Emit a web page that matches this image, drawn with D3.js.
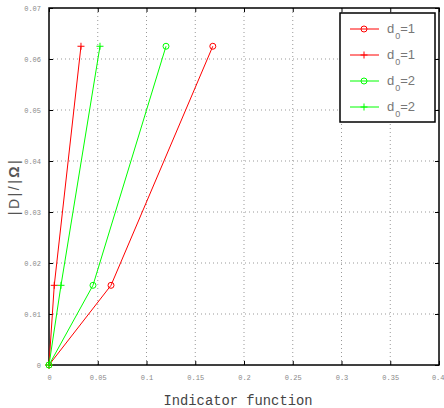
<!DOCTYPE html>
<html>
<head>
<meta charset="utf-8">
<script src="https://cdn.jsdelivr.net/npm/d3@7"></script>
<style>
  body { margin: 0; background: #fff; }
  svg { display: block; }
  .tick text { font-family: "Liberation Mono", "DejaVu Sans Mono", monospace; font-size: 7px; fill: #888; }
</style>
</head>
<body>
<div id="chart"></div>
<script>
// --- data ---
const xTicks = [0, 0.05, 0.1, 0.15, 0.2, 0.25, 0.3, 0.35, 0.4];
const yTicks = [0, 0.01, 0.02, 0.03, 0.04, 0.05, 0.06, 0.07];

const redCircleX = [0, 0.0636, 0.168];
const redCircleY = [0, 0.015625, 0.0625];
const redPlusX = [0, 0.0054, 0.0328];
const redPlusY = [0, 0.015625, 0.0625];
const greenCircleX = [0, 0.0451, 0.12];
const greenCircleY = [0, 0.015625, 0.0625];
const greenPlusX = [0, 0.0123, 0.0523];
const greenPlusY = [0, 0.015625, 0.0625];

const seriesSub = ["1", "1", "2", "2"];

const series = [
  { xs: redCircleX, ys: redCircleY, color: "#ff0000", marker: "circle", val: seriesSub[0] },
  { xs: redPlusX, ys: redPlusY, color: "#ff0000", marker: "plus", val: seriesSub[1] },
  { xs: greenCircleX, ys: greenCircleY, color: "#00ff00", marker: "circle", val: seriesSub[2] },
  { xs: greenPlusX, ys: greenPlusY, color: "#00ff00", marker: "plus", val: seriesSub[3] }
];

const width = 444, height = 408;
const margin = { top: 8, right: 5, bottom: 43, left: 49 };

const svg = d3.select("#chart").append("svg")
  .attr("width", width).attr("height", height);

const x = d3.scaleLinear().domain([0, 0.4]).range([margin.left, width - margin.right]);
const y = d3.scaleLinear().domain([0, 0.07]).range([height - margin.bottom, margin.top]);

// grid
const grid = svg.append("g");
grid.selectAll(".gx").data(xTicks.slice(1, -1)).join("line")
  .attr("x1", d => x(d)).attr("x2", d => x(d))
  .attr("y1", y(0)).attr("y2", y(0.07))
  .attr("stroke", "#999").attr("stroke-width", 1).attr("stroke-dasharray", "1,3");
grid.selectAll(".gy").data(yTicks.slice(1, -1)).join("line")
  .attr("x1", x(0)).attr("x2", x(0.4))
  .attr("y1", d => y(d)).attr("y2", d => y(d))
  .attr("stroke", "#999").attr("stroke-width", 1).attr("stroke-dasharray", "1,3");

// axes (ticks inward, MATLAB-ish)
const fmt = d => d === 0 ? "0" : String(+d.toFixed(2));
svg.append("g").attr("transform", `translate(0,${y(0)})`)
  .call(d3.axisBottom(x).tickValues(xTicks).tickFormat(fmt).tickSizeInner(-4).tickSizeOuter(0).tickPadding(10))
  .call(g => g.select(".domain").remove())
  .call(g => g.selectAll(".tick line").attr("stroke", "#000"))
  .call(g => g.selectAll(".tick:last-of-type text").attr("text-anchor", "end").attr("dx", 5));
svg.append("g").attr("transform", `translate(${x(0)},0)`)
  .call(d3.axisLeft(y).tickValues(yTicks).tickFormat(fmt).tickSizeInner(-4).tickSizeOuter(0).tickPadding(8))
  .call(g => g.select(".domain").remove())
  .call(g => g.selectAll(".tick line").attr("stroke", "#000"));
svg.append("g").attr("transform", `translate(0,${y(0.07)})`)
  .call(d3.axisTop(x).tickValues(xTicks).tickFormat("").tickSizeInner(-4).tickSizeOuter(0))
  .call(g => g.select(".domain").remove());
svg.append("g").attr("transform", `translate(${x(0.4)},0)`)
  .call(d3.axisRight(y).tickValues(yTicks).tickFormat("").tickSizeInner(-4).tickSizeOuter(0))
  .call(g => g.select(".domain").remove());

// box
svg.append("rect")
  .attr("x", x(0)).attr("y", y(0.07))
  .attr("width", x(0.4) - x(0)).attr("height", y(0) - y(0.07))
  .attr("fill", "none").attr("stroke", "#000").attr("stroke-width", 1.5);

// lines + markers
const line = d3.line().x(d => x(d[0])).y(d => y(d[1]));

function drawMarker(g, type, cx, cy, color) {
  if (type === "circle") {
    g.append("circle").attr("cx", cx).attr("cy", cy).attr("r", 3)
      .attr("fill", "none").attr("stroke", color).attr("stroke-width", 1);
  } else {
    g.append("path").attr("d", `M${cx - 3.5},${cy}H${cx + 3.5}M${cx},${cy - 3.5}V${cy + 3.5}`)
      .attr("stroke", color).attr("stroke-width", 1);
  }
}

series.forEach(s => {
  const pts = s.xs.map((v, i) => [v, s.ys[i]]);
  const g = svg.append("g");
  g.append("path").attr("d", line(pts))
    .attr("fill", "none").attr("stroke", s.color).attr("stroke-width", 1);
  pts.forEach(p => drawMarker(g, s.marker, x(p[0]), y(p[1]), s.color));
});

// legend
const lg = svg.append("g").attr("transform", "translate(340,13)");
lg.append("rect").attr("width", 95).attr("height", 109)
  .attr("fill", "#fff").attr("stroke", "#000").attr("stroke-width", 1.5);
series.forEach((s, i) => {
  const ly = 16 + i * 26;
  lg.append("line").attr("x1", 10).attr("x2", 39).attr("y1", ly).attr("y2", ly)
    .attr("stroke", s.color).attr("stroke-width", 1);
  drawMarker(lg, s.marker, 24, ly, s.color);
  const t = lg.append("text").attr("x", 47).attr("y", ly + 4)
    .attr("font-family", "Liberation Sans, Arial, sans-serif")
    .attr("font-size", 13).attr("fill", "#777");
  t.append("tspan").text("d");
  t.append("tspan").attr("dy", 6).attr("dx", 1).attr("font-size", 9).text("0");
  t.append("tspan").attr("dy", -6).text("=" + s.val);
});

// axis labels
svg.append("text")
  .attr("x", 238).attr("y", 405)
  .attr("text-anchor", "middle")
  .attr("font-family", "Liberation Mono, Courier New, monospace")
  .attr("font-size", 13.8).attr("fill", "#444")
  .text("Indicator function");

const yl = svg.append("text")
  .attr("transform", `translate(19,${(y(0) + y(0.07)) / 2}) rotate(-90)`)
  .attr("text-anchor", "middle")
  .attr("font-family", "Liberation Sans, Arial, sans-serif")
  .attr("font-size", 14).attr("fill", "#555")
  .attr("letter-spacing", 2.5);
yl.append("tspan").text("|D|/|");
yl.append("tspan").attr("font-weight", "bold").text("Ω");
yl.append("tspan").text("|");
</script>
</body>
</html>
